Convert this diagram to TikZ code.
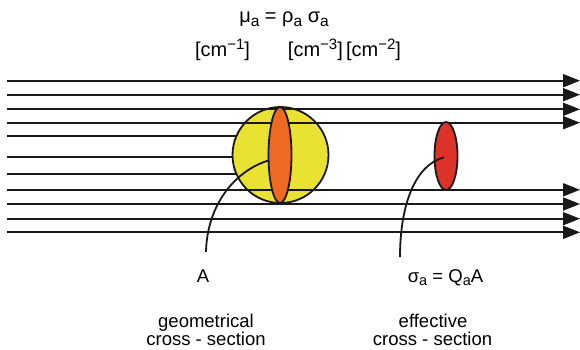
\documentclass[tikz,border=0pt]{standalone}
\usepackage{fontspec}
\setmainfont{Liberation Sans}
\usetikzlibrary{arrows.meta}
\definecolor{sphereyellow}{HTML}{EAE232}
\definecolor{discorange}{HTML}{EE6A22}
\definecolor{discred}{HTML}{DD3228}
\newcommand{\lsub}[1]{\raisebox{-3.6pt}{\fontsize{14.5}{14.5}\selectfont #1}}
\newcommand{\esub}[1]{\raisebox{-3.8pt}{\fontsize{15.5}{15.5}\selectfont #1}}
\newcommand{\lsup}[1]{\raisebox{7pt}{\fontsize{15}{15}\selectfont #1}}
\tikzset{
  beam/.style={line width=1.8pt, draw=black!90},
  beamarrow/.style={beam, -{Triangle[length=17pt,width=13pt]}},
  outline/.style={line width=1.8pt, draw=black!90},
  pointer/.style={line width=1.8pt, draw=black!90},
  lbl/.style={inner sep=0pt, anchor=base, font=\fontsize{18.5}{18.5}\selectfont},
  eqlbl/.style={inner sep=0pt, anchor=base, font=\fontsize{20}{20}\selectfont},
  unitlbl/.style={inner sep=0pt, anchor=base, font=\fontsize{20}{20}\selectfont}
}
\begin{document}
\begin{tikzpicture}[x=1pt,y=-1pt]
\useasboundingbox (0,0) rectangle (580,349);
% beams stopped by the sphere
\foreach \yy in {136,156.7,174}{
  \draw[beam] (7,\yy) -- (270,\yy);
}
% sphere
\draw[outline, fill=sphereyellow] (280.5,155) circle (48);
% passing beams
\foreach \yy in {80.7,94.7,109.3,122.7,189.8,204,218.7,232.3}{
  \draw[beamarrow] (7,\yy) -- (580,\yy);
}
% pointer to geometrical cross-section
\draw[pointer] (270,160) .. controls (235,170) and (207,205) .. (206,252);
% geometrical cross-section disc
\draw[outline, fill=discorange] (280,155) ellipse (11.5 and 48);
% effective cross-section disc
\draw[outline, fill=discred] (446,156) ellipse (11.5 and 34);
% pointer to effective cross-section
\draw[pointer] (444,157.3) .. controls (415,165) and (400,205) .. (400,257);
% texts
\node[eqlbl] (eq) at (284,22.5) {μ\esub{a} = ρ\esub{a} σ\esub{a}};
\node[unitlbl] (u1) at (222.5,56) {[cm\lsup{−1}]};
\node[unitlbl] (u2) at (344.5,56) {[cm\lsup{−3}]\,[cm\lsup{−2}]};
\node[lbl] (A) at (203,282) {A};
\node[lbl] (sig) at (445.5,282) {σ\lsub{a} = Q\lsub{a}A};
\node[lbl] (g1) at (206,327) {geometrical};
\node[lbl] (g2) at (206,345) {cross - section};
\node[lbl] (e1) at (433,327) {effective};
\node[lbl] (e2) at (432.5,345) {cross - section};
\end{tikzpicture}
\end{document}
